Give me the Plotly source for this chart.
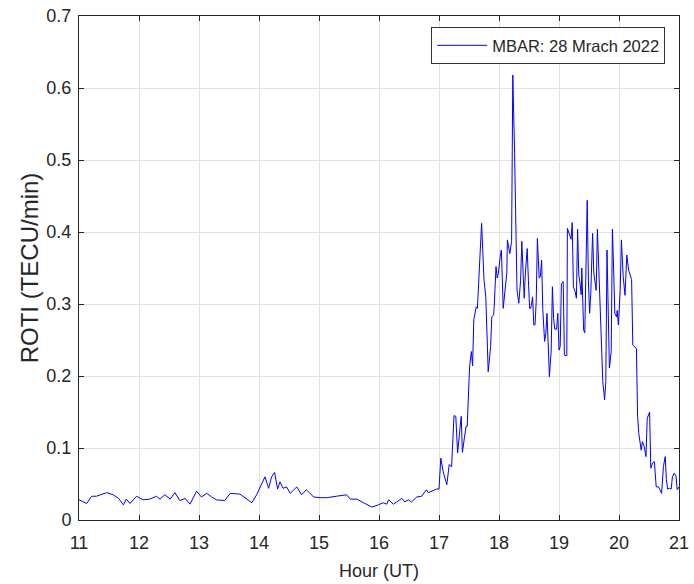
import plotly.graph_objects as go

hours = [
    11.00, 11.13, 11.21, 11.29, 11.46, 11.57, 11.66, 11.74, 11.79, 11.85, 11.96,
    12.07, 12.18, 12.29, 12.35, 12.43, 12.52, 12.60, 12.68, 12.77, 12.85, 12.96,
    13.04, 13.13, 13.21, 13.29, 13.43, 13.52, 13.68, 13.77, 13.88, 13.96,
    14.02, 14.10, 14.16, 14.21, 14.26, 14.31, 14.35, 14.40, 14.46, 14.52, 14.63, 14.71, 14.79, 14.91,
    15.02, 15.13, 15.29, 15.46, 15.52, 15.63, 15.74, 15.88, 15.99,
    16.07, 16.13, 16.16, 16.24, 16.29, 16.38, 16.43, 16.49, 16.54, 16.63, 16.71, 16.79, 16.82, 16.91, 16.96,
    17.00, 17.03, 17.07, 17.13, 17.17, 17.21, 17.25, 17.28, 17.31, 17.37, 17.39, 17.45, 17.47,
    17.51, 17.54, 17.56, 17.58, 17.62, 17.64, 17.67, 17.71, 17.75, 17.78, 17.82, 17.86, 17.88,
    17.91, 17.92, 17.95, 17.97, 17.99, 18.02, 18.04, 18.07,
    18.10, 18.13, 18.14, 18.18, 18.21, 18.23, 18.26, 18.28, 18.30, 18.33, 18.36, 18.38, 18.40,
    18.42, 18.44, 18.47, 18.49, 18.51, 18.53, 18.56, 18.58, 18.60, 18.62, 18.64, 18.67, 18.69,
    18.71, 18.73, 18.76, 18.78, 18.80, 18.82, 18.84, 18.87, 18.89, 18.91, 18.93, 18.96, 18.98,
    19.00, 19.02, 19.04, 19.07, 19.09, 19.13, 19.14, 19.18, 19.20, 19.22, 19.24, 19.27, 19.29,
    19.31, 19.33, 19.35, 19.37, 19.38, 19.41, 19.43, 19.47, 19.49, 19.51, 19.53, 19.56, 19.58,
    19.60, 19.62, 19.64, 19.67, 19.69, 19.71, 19.73, 19.76, 19.78, 19.80, 19.82, 19.84, 19.87,
    19.89, 19.91, 19.93, 19.96, 19.97, 19.99, 20.02, 20.04, 20.07, 20.10, 20.13, 20.16, 20.19,
    20.21, 20.23, 20.26, 20.29, 20.31, 20.33, 20.37, 20.39, 20.42, 20.45, 20.47, 20.51, 20.53,
    20.56, 20.59, 20.62, 20.66, 20.69, 20.71, 20.74, 20.77, 20.79, 20.81, 20.84, 20.87, 20.89,
    20.92, 20.95, 20.97, 21.00,
]

roti = [
    0.028, 0.023, 0.033, 0.033, 0.038, 0.035, 0.030, 0.021, 0.029, 0.023, 0.033,
    0.028, 0.029, 0.033, 0.029, 0.035, 0.029, 0.038, 0.027, 0.030, 0.022, 0.040,
    0.032, 0.037, 0.032, 0.028, 0.027, 0.037, 0.036, 0.030, 0.024, 0.035,
    0.045, 0.060, 0.044, 0.060, 0.066, 0.043, 0.053, 0.044, 0.046, 0.037, 0.046, 0.035, 0.042, 0.032,
    0.031, 0.031, 0.033, 0.035, 0.029, 0.029, 0.024, 0.018, 0.021,
    0.024, 0.022, 0.028, 0.022, 0.025, 0.030, 0.025, 0.028, 0.025, 0.032, 0.033, 0.042, 0.038, 0.041, 0.043,
    0.043, 0.086, 0.067, 0.049, 0.077, 0.074, 0.145, 0.144, 0.093, 0.144, 0.094, 0.130, 0.130,
    0.213, 0.234, 0.214, 0.278, 0.296, 0.294, 0.343, 0.412, 0.333, 0.310, 0.206, 0.241, 0.282,
    0.285, 0.296, 0.352, 0.336, 0.343, 0.366, 0.375, 0.294,
    0.319, 0.343, 0.389, 0.370, 0.387, 0.618, 0.509, 0.407, 0.319, 0.301, 0.333, 0.387, 0.338,
    0.308, 0.343, 0.377, 0.333, 0.294, 0.294, 0.310, 0.271, 0.271, 0.303, 0.391, 0.336, 0.338,
    0.361, 0.292, 0.248, 0.259, 0.287, 0.229, 0.199, 0.236, 0.324, 0.280, 0.265, 0.265, 0.287,
    0.236, 0.241, 0.328, 0.331, 0.229, 0.228, 0.405, 0.396, 0.390, 0.413, 0.324, 0.317, 0.308,
    0.404, 0.340, 0.329, 0.313, 0.350, 0.264, 0.260, 0.444, 0.333, 0.287, 0.315, 0.398, 0.343,
    0.329, 0.319, 0.404, 0.329, 0.280, 0.222, 0.192, 0.167, 0.192, 0.375, 0.259, 0.211, 0.234,
    0.404, 0.350, 0.287, 0.282, 0.291, 0.271, 0.319, 0.389, 0.338, 0.312, 0.368, 0.347, 0.338,
    0.334, 0.243, 0.241, 0.238, 0.144, 0.120, 0.097, 0.109, 0.102, 0.088, 0.141, 0.150, 0.072,
    0.079, 0.081, 0.046, 0.046, 0.039, 0.037, 0.074, 0.088, 0.056, 0.043, 0.044, 0.043, 0.060,
    0.065, 0.061, 0.042, 0.046,
]

x_ticks = list(range(11, 22))
y_ticks = [0, 0.1, 0.2, 0.3, 0.4, 0.5, 0.6, 0.7]
y_tick_labels = ["0", "0.1", "0.2", "0.3", "0.4", "0.5", "0.6", "0.7"]
series_name = "MBAR: 28 Mrach 2022"

FONT = "Liberation Sans, Arial, sans-serif"
AXC = "#262626"

fig = go.Figure()
fig.add_trace(go.Scatter(
    x=hours, y=roti, mode="lines", name=series_name,
    line=dict(color="#0000FF", width=1),
))

fig.update_layout(
    width=694, height=584,
    margin=dict(l=79, r=15, t=16, b=64),
    paper_bgcolor="white", plot_bgcolor="white",
    font=dict(family=FONT, size=16, color=AXC),
    showlegend=True,
    legend=dict(
        x=0.977, y=0.978, xanchor="right", yanchor="top",
        bgcolor="white", bordercolor="#333333", borderwidth=1,
        font=dict(family=FONT, size=16.5, color=AXC),
        itemwidth=50,
    ),
)
fig.update_xaxes(
    range=[11, 21], tickvals=x_ticks, automargin=False,
    ticks="inside", ticklen=5, tickcolor=AXC, tickwidth=1,
    ticklabelstandoff=6, ticklabeloverflow="allow",
    showline=True, linecolor=AXC, linewidth=1, mirror="ticks",
    showgrid=True, gridcolor="#E1E1E1", gridwidth=1, zeroline=False,
    tickfont=dict(family=FONT, size=18, color=AXC),
    title=dict(text="Hour (UT)", font=dict(family=FONT, size=18, color=AXC), standoff=12),
)
fig.update_yaxes(
    range=[0, 0.7], tickvals=y_ticks, ticktext=y_tick_labels, automargin=False,
    ticks="inside", ticklen=5, tickcolor=AXC, tickwidth=1,
    ticklabelstandoff=3, ticklabeloverflow="allow",
    showline=True, linecolor=AXC, linewidth=1, mirror="ticks",
    showgrid=True, gridcolor="#E1E1E1", gridwidth=1, zeroline=False,
    tickfont=dict(family=FONT, size=18, color=AXC),
    title=dict(text="ROTI (TECU/min)", font=dict(family=FONT, size=24, color=AXC), standoff=0),
)

# remove the browser's default 8 px page margin so the figure fills the window
fig.write_html(
    "out.html",
    config={"displayModeBar": False},
    post_script="document.body.style.margin='0';document.body.style.overflow='hidden';",
)
